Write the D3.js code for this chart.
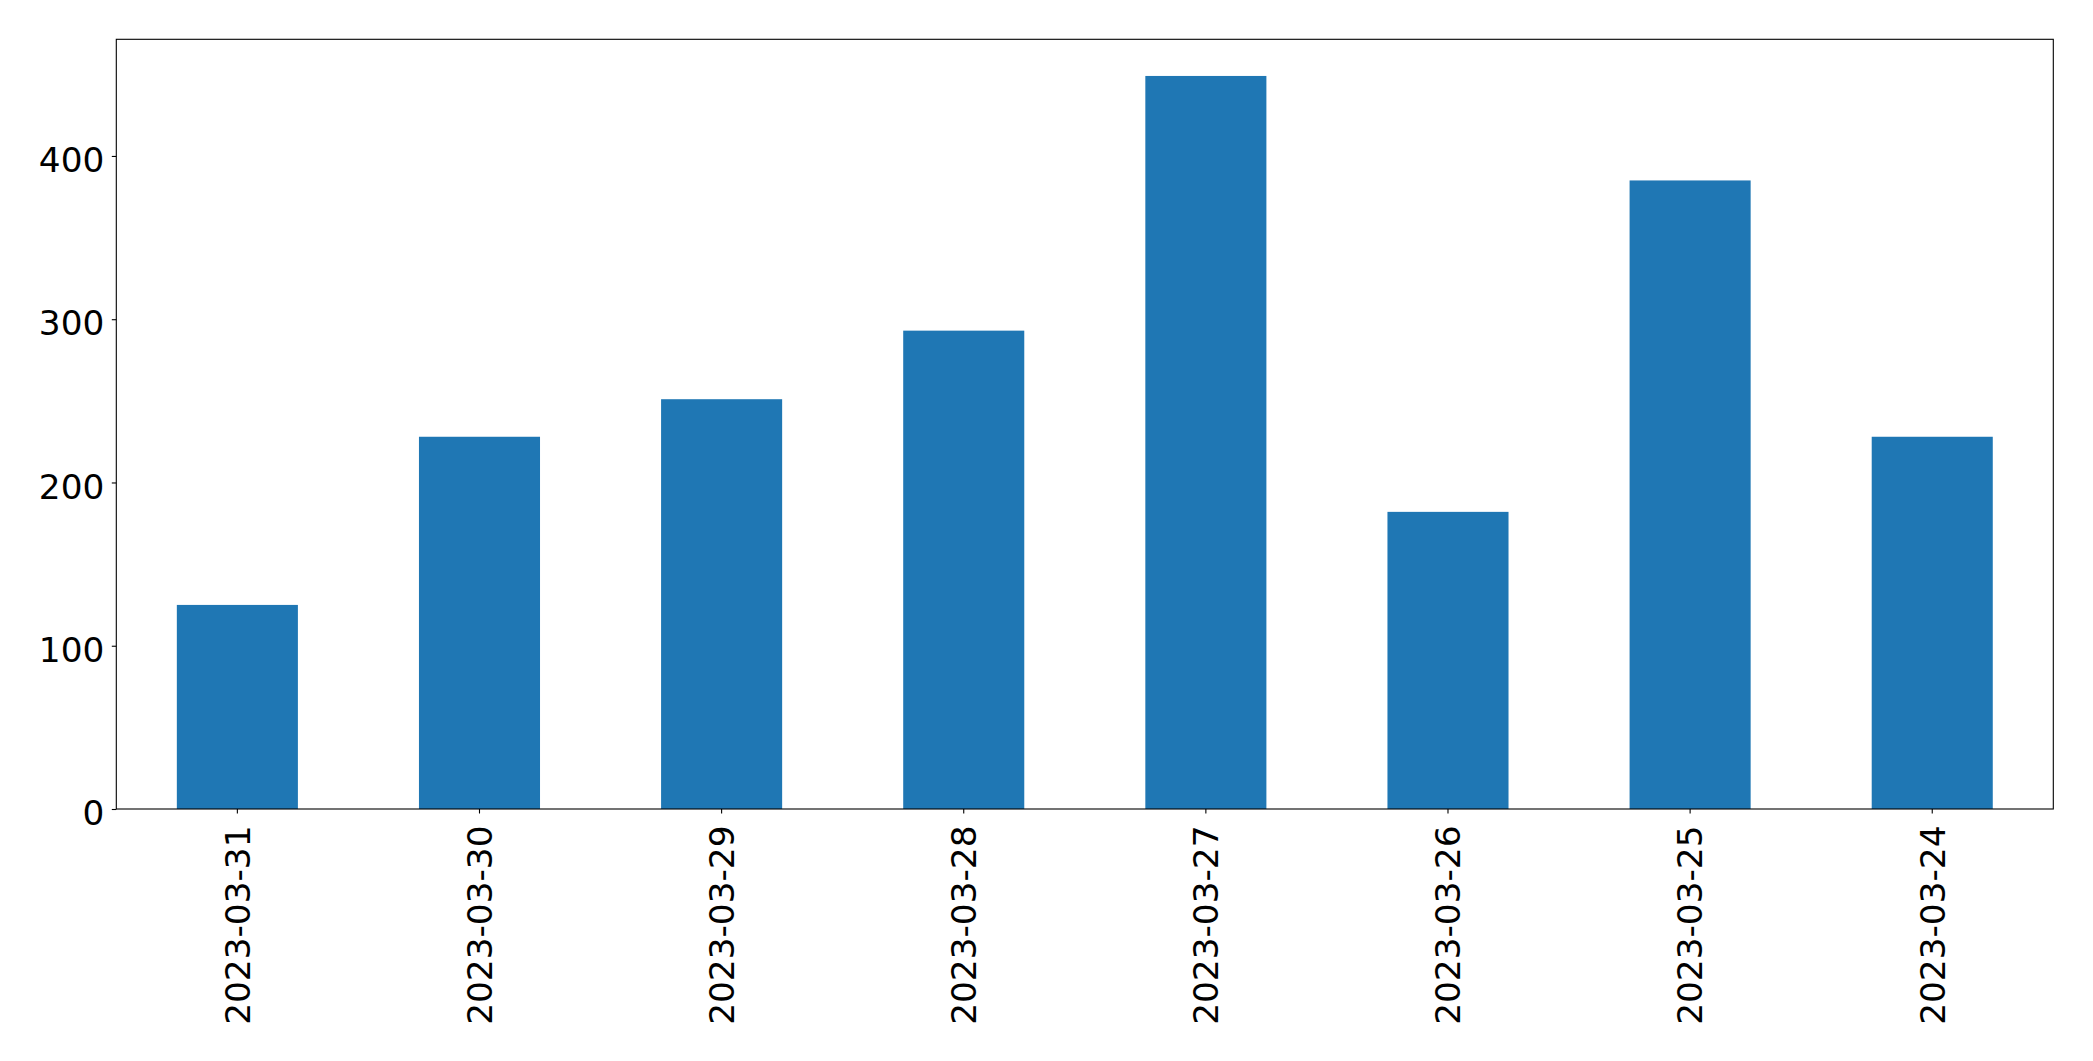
<!DOCTYPE html>
<html>
<head>
<meta charset="utf-8">
<script src="https://cdn.jsdelivr.net/npm/d3@7"></script>
<style>
  html, body { margin: 0; padding: 0; background: #fff; }
  svg { display: block; }
  text { font-family: "DejaVu Sans", sans-serif; fill: #000; }
</style>
</head>
<body>
<svg id="chart" width="2093" height="1061"></svg>
<script>
const categories = ["2023-03-31", "2023-03-30", "2023-03-29", "2023-03-28", "2023-03-27", "2023-03-26", "2023-03-25", "2023-03-24"];
const values = [125, 228, 251, 293, 449, 182, 385, 228];
const yTicks = [0, 100, 200, 300, 400];

const W = 2093, H = 1061;
const plot = { left: 116.3, right: 2053.3, top: 39.3, bottom: 809 };
const fontSize = 34.3;
const barColor = "#1f77b4";

const svg = d3.select("#chart");

const x = d3.scaleBand()
  .domain(categories)
  .range([plot.left, plot.right])
  .paddingInner(0.5)
  .paddingOuter(0.25);

const yMax = d3.max(values) * 1.05;
const y = d3.scaleLinear().domain([0, yMax]).range([plot.bottom, plot.top]);

// bars
svg.append("g").selectAll("rect")
  .data(categories.map((c, i) => ({ c, v: values[i] })))
  .join("rect")
  .attr("x", d => x(d.c))
  .attr("width", x.bandwidth())
  .attr("y", d => y(d.v))
  .attr("height", d => y(0) - y(d.v))
  .attr("fill", barColor);

// y axis
const yAxis = d3.axisLeft(y).tickValues(yTicks).tickSize(4.5).tickPadding(7.5);
const gy = svg.append("g").attr("transform", `translate(${plot.left},0)`).call(yAxis);
gy.select(".domain").remove();
gy.selectAll(".tick line").attr("stroke", "#000").attr("stroke-width", 1.1);
gy.selectAll(".tick text")
  .attr("font-size", fontSize)
  .attr("font-family", "DejaVu Sans, sans-serif")
  .attr("dy", "0.46em")
  .attr("fill", "#000");

// x axis
const xAxis = d3.axisBottom(x).tickSize(4.5).tickPadding(0);
const gx = svg.append("g").attr("transform", `translate(0,${plot.bottom})`).call(xAxis);
gx.select(".domain").remove();
gx.selectAll(".tick line").attr("stroke", "#000").attr("stroke-width", 1.1);
gx.selectAll(".tick text")
  .attr("font-size", fontSize)
  .attr("font-family", "DejaVu Sans, sans-serif")
  .attr("fill", "#000")
  .attr("text-anchor", "end")
  .attr("transform", "translate(0,16.5) rotate(-90)")
  .attr("x", 0)
  .attr("y", 0)
  .attr("dy", "0.36em");

// frame
svg.append("rect")
  .attr("x", plot.left)
  .attr("y", plot.top)
  .attr("width", plot.right - plot.left)
  .attr("height", plot.bottom - plot.top)
  .attr("fill", "none")
  .attr("stroke", "#000")
  .attr("stroke-width", 1.1);
</script>
</body>
</html>
